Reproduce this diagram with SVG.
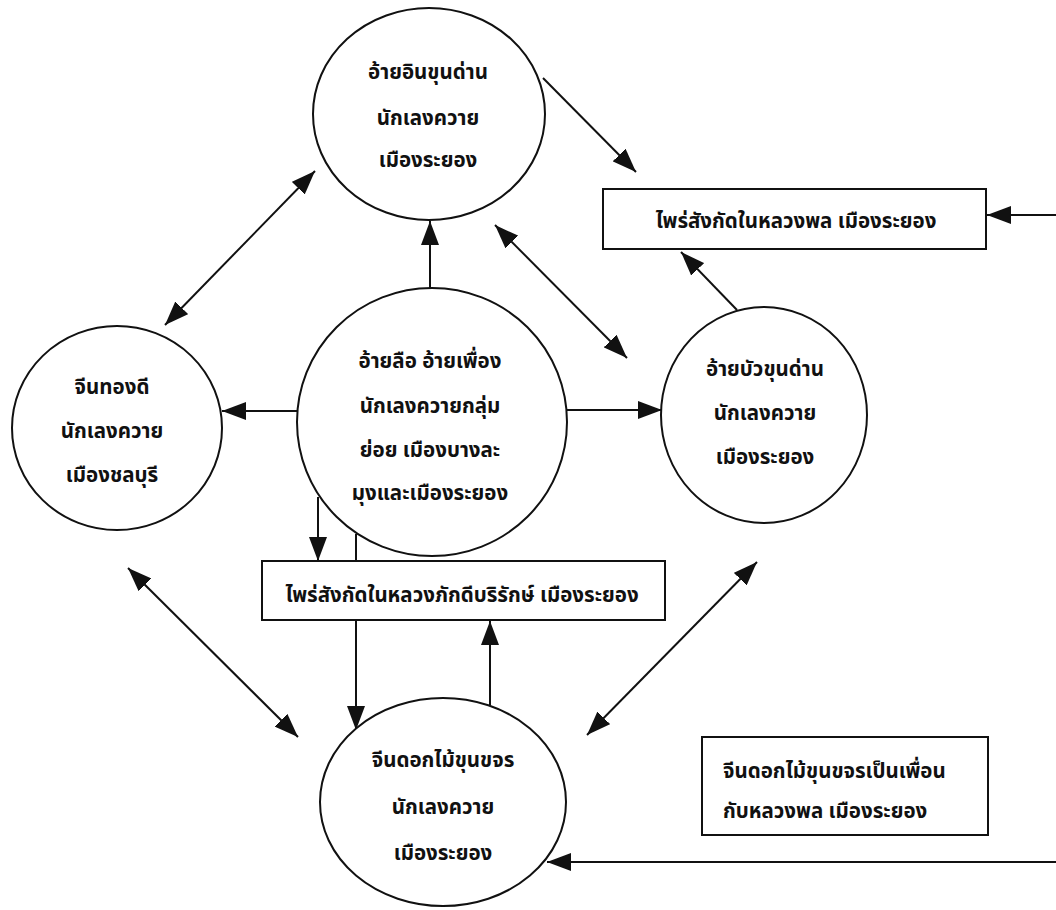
<svg xmlns="http://www.w3.org/2000/svg" width="1056" height="910" viewBox="0 0 1056 910">
<style>
.n{fill:#fff;stroke:#111;stroke-width:2}
.c{stroke:#111;stroke-width:2;fill:none}
.t{font-family:"Noto Sans Thai","Noto Sans Thai UI","Loma","Garuda","Noto Sans","DejaVu Sans",sans-serif;font-weight:bold;font-size:20.5px;fill:#111}
.m{text-anchor:middle}
</style>
<defs>
<marker id="ah" viewBox="0 0 24 18" refX="24" refY="9" markerWidth="24" markerHeight="18" orient="auto-start-reverse" markerUnits="userSpaceOnUse">
<path d="M0,0 L24,9 L0,18 z" fill="#111"/>
</marker>
</defs>
<rect width="1056" height="910" fill="#fff"/>
<g id="connectors">
<line class="c" x1="165" y1="325" x2="315" y2="171" marker-start="url(#ah)" marker-end="url(#ah)"/>
<line class="c" x1="543" y1="78" x2="636" y2="172" marker-end="url(#ah)"/>
<line class="c" x1="430" y1="290" x2="430" y2="221" marker-end="url(#ah)"/>
<line class="c" x1="495" y1="225" x2="627" y2="358" marker-start="url(#ah)" marker-end="url(#ah)"/>
<line class="c" x1="298" y1="411" x2="222" y2="411" marker-end="url(#ah)"/>
<line class="c" x1="566" y1="410" x2="662" y2="410" marker-end="url(#ah)"/>
<line class="c" x1="737" y1="310" x2="681" y2="252" marker-end="url(#ah)"/>
<line class="c" x1="1056" y1="215" x2="987" y2="215" marker-end="url(#ah)"/>
<line class="c" x1="318" y1="497" x2="318" y2="561" marker-end="url(#ah)"/>
<line class="c" x1="356" y1="534" x2="356" y2="730" marker-end="url(#ah)"/>
<line class="c" x1="490" y1="705" x2="490" y2="621" marker-end="url(#ah)"/>
<line class="c" x1="128" y1="568" x2="298" y2="737" marker-start="url(#ah)" marker-end="url(#ah)"/>
<line class="c" x1="757" y1="562" x2="587" y2="735" marker-start="url(#ah)" marker-end="url(#ah)"/>
<line class="c" x1="1056" y1="862" x2="547" y2="862" marker-end="url(#ah)"/>
</g>
<g id="n-top">
<ellipse class="n" cx="429" cy="114" rx="116" ry="106"/>
<text class="t m" x="428" y="79">อ้ายอินขุนด่าน</text>
<text class="t m" x="428" y="125">นักเลงควาย</text>
<text class="t m" x="428" y="167">เมืองระยอง</text>
</g>
<g id="n-rect-top">
<rect class="n" x="603" y="189" width="383" height="60"/>
<text class="t m" x="796" y="228">ไพร่สังกัดในหลวงพล เมืองระยอง</text>
</g>
<g id="n-left">
<ellipse class="n" cx="117" cy="428" rx="105" ry="102"/>
<text class="t m" x="112" y="394">จีนทองดี</text>
<text class="t m" x="112" y="438">นักเลงควาย</text>
<text class="t m" x="112" y="482">เมืองชลบุรี</text>
</g>
<g id="n-center">
<ellipse class="n" cx="432" cy="422" rx="135" ry="134"/>
<text class="t m" x="430" y="368">อ้ายลือ อ้ายเพื่อง</text>
<text class="t m" x="430" y="413">นักเลงควายกลุ่ม</text>
<text class="t m" x="430" y="457">ย่อย เมืองบางละ</text>
<text class="t m" x="430" y="500">มุงและเมืองระยอง</text>
</g>
<g id="n-right">
<ellipse class="n" cx="764" cy="415" rx="103" ry="108"/>
<text class="t m" x="765" y="376">อ้ายบัวขุนด่าน</text>
<text class="t m" x="765" y="420">นักเลงควาย</text>
<text class="t m" x="765" y="464">เมืองระยอง</text>
</g>
<g id="n-rect-mid">
<rect class="n" x="262" y="561" width="403" height="59"/>
<text class="t m" x="462" y="602">ไพร่สังกัดในหลวงภักดีบริรักษ์ เมืองระยอง</text>
</g>
<g id="n-bottom">
<ellipse class="n" cx="443" cy="802" rx="123" ry="104"/>
<text class="t m" x="443" y="767">จีนดอกไม้ขุนขจร</text>
<text class="t m" x="443" y="814">นักเลงควาย</text>
<text class="t m" x="443" y="860">เมืองระยอง</text>
</g>
<g id="n-note">
<rect class="n" x="702" y="737" width="286" height="98"/>
<text class="t" x="723" y="778">จีนดอกไม้ขุนขจรเป็นเพื่อน</text>
<text class="t" x="723" y="818">กับหลวงพล เมืองระยอง</text>
</g>
</svg>
